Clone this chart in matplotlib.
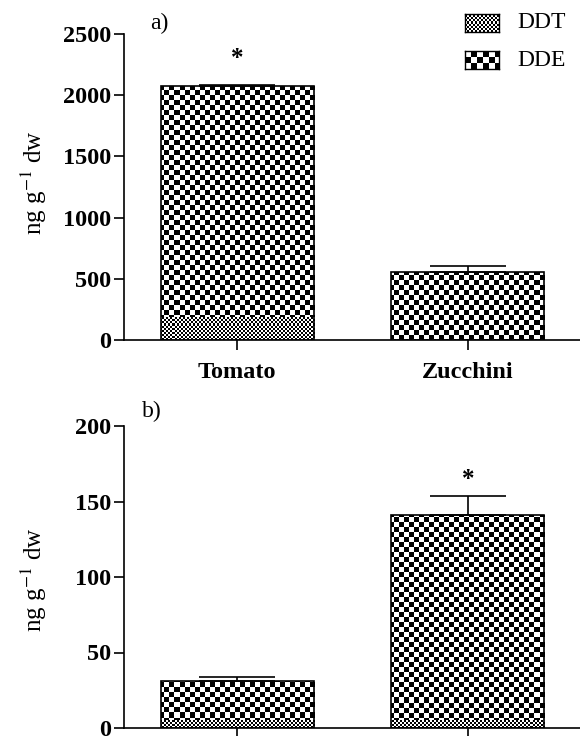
import numpy as np
import matplotlib
matplotlib.use("Agg")
import matplotlib.pyplot as plt

plt.rcParams['font.family'] = ['Liberation Serif', 'DejaVu Serif']
plt.rcParams['mathtext.fontset'] = 'stix'

categories = ["Tomato", "Zucchini"]

# panel a) residues, ng g-1 dw
ddt_a = [190, 10]
dde_a = [1885, 545]
err_a = [10, 50]
sig_a = ["*", ""]

# panel b)
ddt_b = [5, 5]
dde_b = [26, 136]
err_b = [2.5, 12.5]
sig_b = ["", "*"]

FIG_W, FIG_H = 580, 736
DDT_CELL, DDE_CELL = 2, 5


def checker(ax, cell, patch=None):
    # checkerboard fill in pixel units, clipped to a patch
    pos = ax.get_position()
    w, h = pos.width * FIG_W, pos.height * FIG_H
    nc, nr = int(np.ceil(w / cell)), int(np.ceil(h / cell))
    board = np.add.outer(np.arange(nr), np.arange(nc)) % 2
    im = ax.imshow(board, cmap='gray_r', vmin=0, vmax=1, interpolation='nearest',
                   extent=(0, nc * cell / w, 0, nr * cell / h), origin='lower',
                   transform=ax.transAxes, aspect='auto', zorder=1)
    if patch is not None:
        im.set_clip_path(patch)
    return im


def panel(ax, ddt, dde, err, sig, ymax, step, star_off, show_names):
    x = np.arange(len(categories))
    width = 0.663
    total = np.array(ddt) + np.array(dde)

    low = ax.bar(x, ddt, width, color='none', edgecolor='none')
    high = ax.bar(x, dde, width, bottom=ddt, color='none', edgecolor='none')
    for p in low:
        checker(ax, DDT_CELL, p)
    for p in high:
        checker(ax, DDE_CELL, p)
    ax.bar(x, total, width, fill=False, edgecolor='black', linewidth=1.2, zorder=3)

    ax.errorbar(x, total, yerr=[np.zeros(len(x)), err], fmt='none', ecolor='black',
                elinewidth=1.2, capsize=27.7, capthick=1.2, zorder=4)
    for xi, t, e, s in zip(x, total, err, sig):
        if s:
            ax.annotate(s, (xi, t + e), xytext=(0, star_off), textcoords='offset points',
                        ha='center', va='baseline', fontsize=18, fontweight='bold')

    ax.set_xlim(-0.49, 1.49)
    ax.set_ylim(0, ymax)
    ticks = np.arange(0, ymax + 1, step)
    ax.set_yticks(ticks, [str(int(t)) for t in ticks], fontweight='bold')
    if show_names:
        ax.set_xticks(x, categories, fontweight='bold')
    else:
        ax.set_xticks(x, [])
    ax.tick_params(labelsize=17.5, width=1.2, length=7, direction='out')
    ax.tick_params(axis='y', pad=2)
    ax.tick_params(axis='x', pad=9)
    for side in ['top', 'right']:
        ax.spines[side].set_visible(False)
    for side in ['left', 'bottom']:
        ax.spines[side].set_linewidth(1.2)


fig = plt.figure(figsize=(FIG_W / 100, FIG_H / 100), dpi=100)
ax_a = fig.add_axes([124 / FIG_W, 1 - 340 / FIG_H, 457 / FIG_W, 306 / FIG_H])
ax_b = fig.add_axes([124 / FIG_W, 1 - 728 / FIG_H, 457 / FIG_W, 302 / FIG_H])

panel(ax_a, ddt_a, dde_a, err_a, sig_a, 2500, 500, 14, True)
panel(ax_b, ddt_b, dde_b, err_b, sig_b, 200, 50, 7, False)

ylab = r"ng g$^{-1}$ dw"
fig.text(34 / FIG_W, 1 - 183 / FIG_H, ylab, rotation=90, ha='center', va='center', fontsize=18)
fig.text(34 / FIG_W, 1 - 580 / FIG_H, ylab, rotation=90, ha='center', va='center', fontsize=18)
fig.text(150 / FIG_W, 1 - 13 / FIG_H, "a)", ha='left', va='top', fontsize=17)
fig.text(142 / FIG_W, 1 - 401 / FIG_H, "b)", ha='left', va='top', fontsize=17)

# legend swatches
for label, cell, ytop in [("DDT", DDT_CELL, 14), ("DDE", 6, 51)]:
    sw = fig.add_axes([465 / FIG_W, 1 - (ytop + 18) / FIG_H, 34 / FIG_W, 18 / FIG_H])
    checker(sw, cell)
    sw.set_xlim(0, 1)
    sw.set_ylim(0, 1)
    sw.set_xticks([])
    sw.set_yticks([])
    for s in sw.spines.values():
        s.set_linewidth(1.0)
    fig.text(517 / FIG_W, 1 - (ytop + 9) / FIG_H, label, ha='left', va='center', fontsize=17)

fig.savefig("out.png", dpi=100)
